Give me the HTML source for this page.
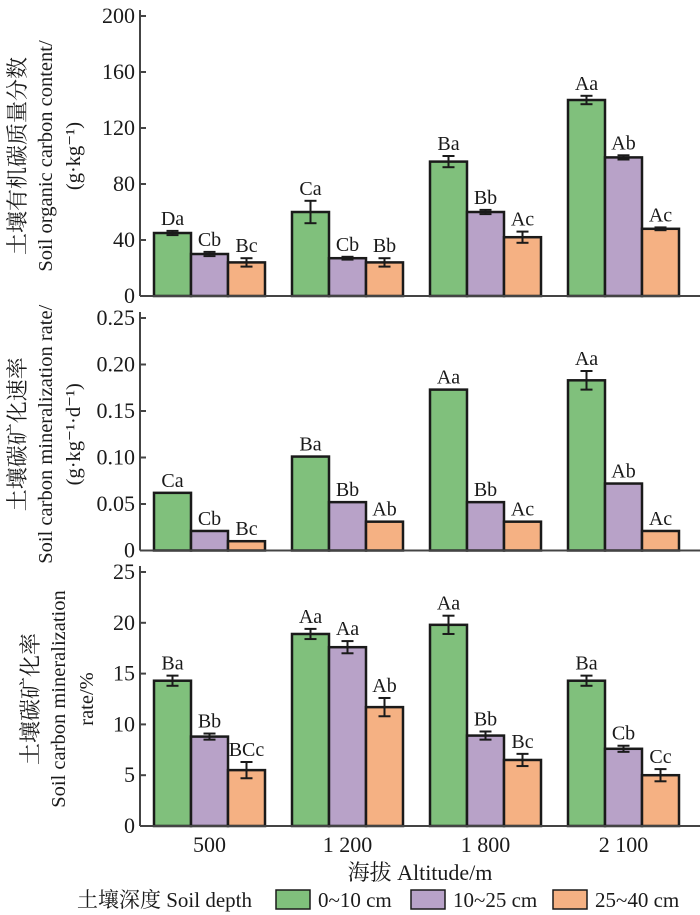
<!DOCTYPE html>
<html><head><meta charset="utf-8">
<style>
html,body{margin:0;padding:0;background:#fff;font-family:"Liberation Serif","DejaVu Serif","Noto Serif CJK SC",serif;}
svg{display:block;}
</style></head>
<body>
<svg id="chart" width="700" height="915" viewBox="0 0 700 915" xmlns="http://www.w3.org/2000/svg"></svg>
<script>
const categories = ["500","1 200","1 800","2 100"];
const depthLabels = ["0~10 cm","10~25 cm","25~40 cm"];
const colors = ["#80c07c","#b8a2c8","#f5b183"];

const socValues = [[45,30,24],[60,27,24],[96,60,42],[140,99,48]];
const socErr = [[1.5,1.5,3],[8,1,3],[4,1.5,4],[3,1.5,1]];
const socLetters = [["Da","Cb","Bc"],["Ca","Cb","Bb"],["Ba","Bb","Ac"],["Aa","Ab","Ac"]];
const socTicks = [0,40,80,120,160,200];
const socTickLabels = ["0","40","80","120","160","200"];

const rateValues = [[0.062,0.021,0.010],[0.101,0.052,0.031],[0.173,0.052,0.031],[0.183,0.072,0.021]];
const rateErr = [[0,0,0],[0,0,0],[0,0,0],[0.01,0,0]];
const rateLetters = [["Ca","Cb","Bc"],["Ba","Bb","Ab"],["Aa","Bb","Ac"],["Aa","Ab","Ac"]];
const rateTicks = [0,0.05,0.10,0.15,0.20,0.25];
const rateTickLabels = ["0","0.05","0.10","0.15","0.20","0.25"];

const pctValues = [[14.3,8.8,5.5],[18.9,17.6,11.7],[19.8,8.9,6.5],[14.3,7.6,5.0]];
const pctErr = [[0.5,0.3,0.8],[0.5,0.6,0.9],[0.9,0.4,0.6],[0.5,0.3,0.6]];
const pctLetters = [["Ba","Bb","BCc"],["Aa","Aa","Ab"],["Aa","Bb","Bc"],["Ba","Cb","Cc"]];
const pctTicks = [0,5,10,15,20,25];
const pctTickLabels = ["0","5","10","15","20","25"];

const NS="http://www.w3.org/2000/svg";
const svg=document.getElementById('chart');
const FONT="'Liberation Serif','DejaVu Serif','Noto Serif CJK SC',serif";
function mk(tag,attrs,parent){const e=document.createElementNS(NS,tag);for(const k in attrs)e.setAttribute(k,attrs[k]);if(tag==='text')e.setAttribute('style','font-family:'+FONT);(parent||svg).appendChild(e);return e;}

const axisX=140, axisRight=700, groupStart=154, groupStep=138, barW=37;
function xBar(g,s){return groupStart+g*groupStep+s*barW;}

function panel(name,y0,y1,vmax,vals,errs,letters,ticks,tickLabels,titleLines){
  const g=mk('g',{});
  
  
  const y=v=>y0-(v/vmax)*(y0-y1);
  vals.forEach((grp,gi)=>grp.forEach((v,si)=>{
    const r=mk('rect',{x:xBar(gi,si),y:y(v),width:barW,height:y0-y(v),fill:colors[si],stroke:'#1a1a1a','stroke-width':2.5},g);
    
    
    const cx=xBar(gi,si)+barW/2; const e=errs[gi][si];
    let top=y(v);
    if(e>0){
      const eb=mk('g',{stroke:'#1a1a1a','stroke-width':2},g);
      
      
      mk('line',{x1:cx,x2:cx,y1:y(v+e),y2:y(v-e)},eb);
      mk('line',{x1:cx-6,x2:cx+6,y1:y(v+e),y2:y(v+e)},eb);
      mk('line',{x1:cx-6,x2:cx+6,y1:y(v-e),y2:y(v-e)},eb);
      top=y(v+e);
    }
    const t=mk('text',{x:cx,y:top-6,'text-anchor':'middle','font-size':20,fill:'#1a1a1a'},g);
    t.textContent=letters[gi][si];
    
    
  }));
  mk('line',{x1:axisX,x2:axisX,y1:y1-6,y2:y0,stroke:'#444','stroke-width':2},g);
  mk('line',{x1:axisX,x2:axisRight,y1:y0,y2:y0,stroke:'#444','stroke-width':2},g);
  ticks.forEach((tv,i)=>{
    mk('line',{x1:axisX,x2:axisX+6,y1:y(tv),y2:y(tv),stroke:'#444','stroke-width':2},g);
    const t=mk('text',{x:axisX-5,y:y(tv)+7,'text-anchor':'end','font-size':22,fill:'#1a1a1a'},g);
    t.textContent=tickLabels[i];
    
    
  });
  const cy=(y0+y1)/2;
  titleLines.forEach((ln,i)=>{
    const t=mk('text',{x:ln[1],y:cy,'text-anchor':'middle','font-size':ln[2],fill:'#1a1a1a',transform:`rotate(-90 ${ln[1]} ${cy})`},g);
    t.textContent=ln[0];
    
    
  });
}

panel('panel-soc',296,16,200,socValues,socErr,socLetters,socTicks,socTickLabels,
  [["土壤有机碳质量分数",25,22],["Soil organic carbon content/",52,20.5],["(g·kg⁻¹)",80,20.5]]);
panel('panel-mineralization-rate',550.5,318,0.25,rateValues,rateErr,rateLetters,rateTicks,rateTickLabels,
  [["土壤碳矿化速率",25,22],["Soil carbon mineralization rate/",52,20.5],["(g·kg⁻¹·d⁻¹)",80,20.5]]);
panel('panel-mineralization-pct',826,572,25,pctValues,pctErr,pctLetters,pctTicks,pctTickLabels,
  [["土壤碳矿化率",38,22],["Soil carbon mineralization",65,20.5],["rate/%",93,20.5]]);

categories.forEach((c,gi)=>{
  const t=mk('text',{x:xBar(gi,0)+barW*1.5,y:852,'text-anchor':'middle','font-size':22,fill:'#1a1a1a'});
  t.textContent=c;
  
  
});
const xt=mk('text',{x:420,y:880,'text-anchor':'middle','font-size':22,fill:'#1a1a1a'});
xt.textContent='海拔 Altitude/m';



const lg=mk('g',{});


const lt=mk('text',{x:77,y:907,'font-size':21,fill:'#1a1a1a'},lg);
lt.textContent='土壤深度 Soil depth';
const lx=[276,411,553];
depthLabels.forEach((d,i)=>{
  const r=mk('rect',{x:lx[i],y:890,width:34,height:19,fill:colors[i],stroke:'#1a1a1a','stroke-width':1.5},lg);
  
  
  const t=mk('text',{x:lx[i]+42,y:907,'font-size':21,fill:'#1a1a1a'},lg);
  t.textContent=d;
  
  
});
</script>
</body></html>
